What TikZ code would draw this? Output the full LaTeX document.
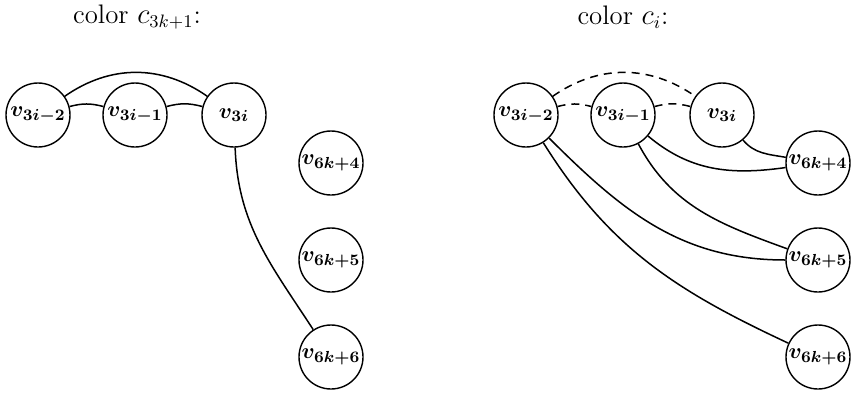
\documentclass[tikz,border=0pt]{standalone}
\usepackage{amsmath,bm}
\begin{document}
\begin{tikzpicture}[x=0.5pt,y=-0.5pt,
  vtx/.style={circle,draw,line width=0.7pt,minimum size=32pt,inner sep=0pt,font=\fontsize{11}{13}\selectfont},
  ttl/.style={font=\fontsize{13.4}{15}\selectfont},
  edge/.style={line width=0.75pt},
  dedge/.style={line width=0.75pt,dash pattern=on 4pt off 3pt}]
\useasboundingbox (0,0) rectangle (852,392);
% left panel
\node[ttl] (t1) at (137,17) {color $c_{3k+1}$:};
\node[vtx] (a1) at (38,115) {$\bm{v_{3i-2}}$};
\node[vtx] (a2) at (135,115) {$\bm{v_{3i-1}}$};
\node[vtx] (a3) at (234,115) {$\bm{v_{3i}}$};
\node[vtx] (a4) at (331,163) {$\bm{v_{6k+4}}$};
\node[vtx] (a5) at (331,260) {$\bm{v_{6k+5}}$};
\node[vtx] (a6) at (331,357) {$\bm{v_{6k+6}}$};
\draw[edge] (a1) to[out=35,in=145] (a3);
\draw[edge] (a1) to[out=15,in=165] (a2);
\draw[edge] (a2) to[out=15,in=165] (a3);
\draw[edge] (a3) to[out=-88,in=123] (a6);
% right panel
\node[ttl] (t2) at (623,17) {color $c_{i}$:};
\node[vtx] (b1) at (526,115) {$\bm{v_{3i-2}}$};
\node[vtx] (b2) at (623,115) {$\bm{v_{3i-1}}$};
\node[vtx] (b3) at (722,115) {$\bm{v_{3i}}$};
\node[vtx] (b4) at (818,163) {$\bm{v_{6k+4}}$};
\node[vtx] (b5) at (818,260) {$\bm{v_{6k+5}}$};
\node[vtx] (b6) at (818,357) {$\bm{v_{6k+6}}$};
\draw[dedge] (b1) to[out=35,in=145] (b3);
\draw[dedge] (b1) to[out=15,in=165] (b2);
\draw[dedge] (b2) to[out=15,in=165] (b3);
\draw[edge] (b3) to[out=-50,in=170] (b4);
\draw[edge] (b2) to[out=-40,in=188] (b4);
\draw[edge] (b2) to[out=-62,in=160] (b5);
\draw[edge] (b1) to[out=-45,in=180] (b5);
\draw[edge] (b1) to[out=-58,in=155] (b6);
\end{tikzpicture}
\end{document}
